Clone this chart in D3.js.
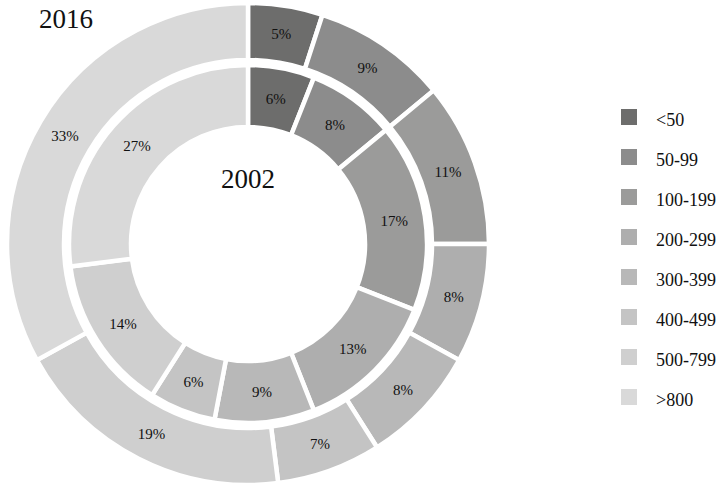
<!DOCTYPE html>
<html>
<head>
<meta charset="utf-8">
<script src="https://cdn.jsdelivr.net/npm/d3@7"></script>
<style>
  body { margin: 0; background: #fff; }
  svg text { font-family: "Liberation Serif", "DejaVu Serif", serif; fill: #111; }
</style>
</head>
<body>
<svg width="719" height="485"></svg>
<script>
const categories = ["<50", "50-99", "100-199", "200-299", "300-399", "400-499", "500-799", ">800"];
const values2016 = [5, 9, 11, 8, 8, 7, 19, 33];
const values2002 = [6, 8, 17, 13, 9, 6, 14, 27];
const colors = ["#6d6d6c", "#8c8c8c", "#9b9b9a", "#aeaeae", "#b8b8b8", "#c4c4c4", "#cfcfcf", "#d9d9d9"];

const svg = d3.select("svg");
const cx = 248, cy = 244;
const g = svg.append("g").attr("transform", `translate(${cx},${cy})`);

const color = d3.scaleOrdinal().domain(categories).range(colors);
const pie = d3.pie().sort(null).value(d => d.value);

function ring(values, r0, r1, cls) {
  const rows = categories.map((c, i) => ({cat: c, value: values[i]}));
  const arc = d3.arc().innerRadius(r0).outerRadius(r1);
  const labelArc = d3.arc().innerRadius((r0 + r1) / 2).outerRadius((r0 + r1) / 2);
  const arcs = pie(rows);
  const grp = g.append("g").attr("class", cls);
  grp.selectAll("path").data(arcs).enter().append("path")
    .attr("d", arc)
    .attr("fill", d => color(d.data.cat))
    .attr("stroke", "#fff")
    .attr("stroke-width", 4.5);
  grp.selectAll("text").data(arcs).enter().append("text")
    .attr("transform", d => `translate(${labelArc.centroid(d)})`)
    .attr("text-anchor", "middle")
    .attr("dy", "0.35em")
    .style("font-size", "15px")
    .text(d => d.data.value + "%");
}

// outer = 2016, inner = 2002
ring(values2016, 184, 241, "outer");
ring(values2002, 117, 179, "inner");

svg.append("text").attr("x", cx).attr("y", 188)
  .attr("text-anchor", "middle").style("font-size", "27px").text("2002");
svg.append("text").attr("x", 66).attr("y", 28)
  .attr("text-anchor", "middle").style("font-size", "27px").text("2016");

// legend
const legend = svg.append("g").attr("transform", "translate(621,109)");
const item = legend.selectAll("g").data(categories).enter().append("g")
  .attr("transform", (d, i) => `translate(0,${i * 40})`);
item.append("rect").attr("width", 16).attr("height", 16).attr("fill", d => color(d));
item.append("text").attr("x", 35).attr("y", 17)
  .style("font-size", "18px").text(d => d);
</script>
</body>
</html>
